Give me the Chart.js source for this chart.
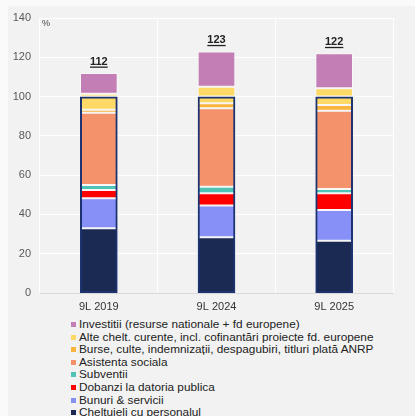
<!DOCTYPE html>
<html lang="ro">
<head>
<meta charset="UTF-8">
<title>Structura cheltuielilor bugetare</title>
<style>
  html, body { margin: 0; padding: 0; width: 415px; height: 416px; overflow: hidden; }
  body { background: #fafafa; font-family: 'Liberation Sans', Arial, sans-serif; position: relative; }
  #panel { position: absolute; left: 8px; top: 6px; right: 0; bottom: 0; background: #f2f2f2; }
  #chart { position: absolute; left: 0; top: 0; }
  #legend { position: absolute; left: 71px; top: 318px; font-size: 11.8px; line-height: 12.6px; color: #222; }
  #legend div { white-space: nowrap; }
  #legend span { display: inline-block; width: 5px; height: 5px; margin-right: 3px; vertical-align: 1px; }
</style>
</head>
<body>
<div id="panel"></div>
<canvas id="chart" width="415" height="316"></canvas>
<div id="legend"></div>

<script src="https://cdn.jsdelivr.net/npm/chart.js"></script>
<script>
// categorii si structura cheltuielilor (% din cheltuielile curente = 100)
const categories = ['9L 2019', '9L 2024', '9L 2025'];
const personal   = [33.0, 28.4, 26.6];
const bunuri     = [15.3, 16.1, 15.7];
const dobanzi    = [4.2, 6.3, 8.5];
const subventii  = [2.5, 3.3, 2.2];
const asistenta  = [36.8, 39.9, 39.8];
const burse      = [1.5, 2.6, 2.9];
const alte       = [6.7, 3.4, 4.3];
const cofinantari = [1.5, 5.0, 4.2];   // partea peste 100
const investitii = [10.5, 18.0, 17.8];
const baza       = [100, 100, 100];
const yTicks     = [0, 20, 40, 60, 80, 100, 120, 140];

const seg = (label, data, color, extra) => Object.assign({
  label, data,
  backgroundColor: color,
  borderColor: 'rgba(255,255,255,0.45)',
  borderWidth: 1,
  borderSkipped: false,
  barPercentage: 0.4,
  categoryPercentage: 0.8
}, extra || {});

const datasets = [
  seg('Cheltuieli cu personalul', personal, '#1b2a52'),
  seg('Bunuri & servicii', bunuri, '#8690f7'),
  seg('Dobanzi la datoria publica', dobanzi, '#ff0000'),
  seg('Subventii', subventii, '#4fc3b5'),
  seg('Asistenta sociala', asistenta, '#f4926b'),
  seg('Burse, culte, indemnizații, despagubiri, titluri plată ANRP', burse, '#fbb43c'),
  seg('Alte chelt. curente, incl. cofinantări proiecte fd. europene', alte, '#ffd966'),
  seg('cofinantari', cofinantari, '#ffd966', { hideInLegend: true }),
  seg('Investitii (resurse nationale + fd europene)', investitii, '#c47eb6'),
  // chenarul de 100 peste cheltuielile curente
  {
    label: 'baza', data: baza, yAxisID: 'y2', order: -1, hideInLegend: true,
    backgroundColor: 'rgba(0,0,0,0)', borderColor: '#1c3370', borderWidth: 2,
    borderSkipped: false, barPercentage: 0.4, categoryPercentage: 0.8
  }
];

// total deasupra fiecarei coloane, subliniat
const totalsPlugin = {
  id: 'totals',
  afterDatasetsDraw(chart) {
    const ctx = chart.ctx;
    const y = chart.scales.y;
    const meta0 = chart.getDatasetMeta(0);
    ctx.save();
    ctx.font = 'bold 11px "Liberation Sans", Arial, sans-serif';
    ctx.fillStyle = '#222';
    ctx.textAlign = 'center';
    ctx.textBaseline = 'alphabetic';
    categories.forEach((c, i) => {
      let total = 0;
      chart.data.datasets.forEach(ds => { if (!ds.yAxisID) total += ds.data[i]; });
      const txt = String(Math.round(total));
      const x = meta0.data[i].x;
      const base = y.getPixelForValue(total) - 8;
      ctx.fillText(txt, x, base);
      const w = ctx.measureText(txt).width;
      ctx.fillRect(x - w / 2, base + 1.5, w, 1.3);
    });
    ctx.font = '9px "Liberation Sans", Arial, sans-serif';
    ctx.fillStyle = '#444';
    ctx.textAlign = 'left';
    ctx.textBaseline = 'top';
    ctx.fillText('%', chart.chartArea.left + 2, chart.chartArea.top + 1);
    ctx.restore();
  }
};

const chart = new Chart(document.getElementById('chart'), {
  type: 'bar',
  data: { labels: categories, datasets },
  options: {
    responsive: false,
    animation: false,
    layout: { padding: { left: 8, right: 22, top: 18, bottom: 3 } },
    plugins: { legend: { display: false }, tooltip: { enabled: false } },
    scales: {
      x: {
        stacked: true,
        grid: { color: '#ffffff', lineWidth: 1, drawTicks: false },
        border: { color: '#d9d9d9' },
        ticks: { color: '#333', padding: 7, font: { size: 11, family: '"Liberation Sans", Arial, sans-serif' } },
        afterFit(s) { s.height = 20; }
      },
      y: {
        stacked: true,
        min: yTicks[0], max: yTicks[yTicks.length - 1],
        grid: { color: '#ffffff', lineWidth: 1, drawTicks: false },
        border: { display: false },
        ticks: { stepSize: yTicks[1] - yTicks[0], color: '#595959', padding: 9,
                 font: { size: 11, family: '"Liberation Sans", Arial, sans-serif' } },
        afterFit(s) { s.width = 32; }
      },
      y2: { display: false, stacked: true, min: yTicks[0], max: yTicks[yTicks.length - 1] }
    }
  },
  plugins: [totalsPlugin]
});

// legenda, in ordinea inversa a stivei
const legend = document.getElementById('legend');
chart.data.datasets.slice().reverse().forEach(ds => {
  if (ds.hideInLegend) return;
  const row = document.createElement('div');
  const box = document.createElement('span');
  box.style.background = ds.backgroundColor;
  row.appendChild(box);
  row.appendChild(document.createTextNode(ds.label));
  legend.appendChild(row);
});
</script>
</body>
</html>
